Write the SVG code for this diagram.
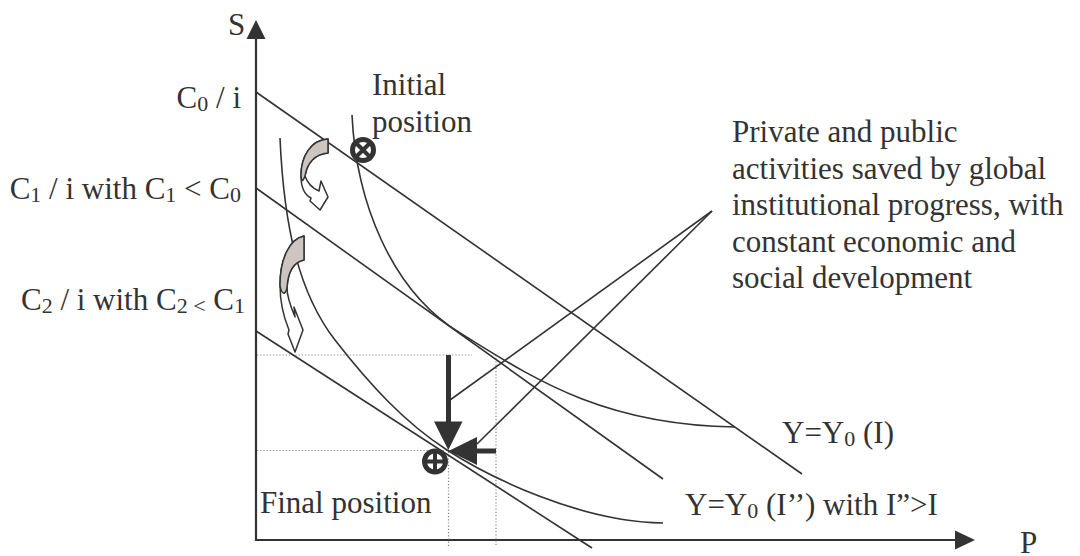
<svg xmlns="http://www.w3.org/2000/svg" width="1080" height="556" viewBox="0 0 1080 556">
<style>
text{font-family:"Liberation Serif","Times New Roman",serif;font-size:31px;fill:#333}
.sub{font-size:22px}
.ln{stroke:#333;stroke-width:1.6;fill:none}
.ax{stroke:#333;stroke-width:2.2;fill:none}
.dot{stroke:#888;stroke-width:1.2;stroke-dasharray:1.2 2;fill:none}
.hd{fill:#333;stroke:none}
.mk{fill:#fff;stroke:#333;stroke-width:5}
.mkx{stroke:#333;stroke-width:4;fill:none}
.ga{fill:#ccc5c2;stroke:#333;stroke-width:1.5;stroke-linejoin:round}
.wa{fill:#fff;stroke:#333;stroke-width:1.5;stroke-linejoin:round}
</style>
<rect width="1080" height="556" fill="#fff"/>

<g id="axes">
<line class="ax" x1="256" y1="38" x2="256" y2="541"/>
<polygon class="hd" points="256,20 246.5,39 265.5,39"/>
<line class="ax" x1="255" y1="540" x2="957" y2="540"/>
<polygon class="hd" points="975,540 955,530.5 955,549.5"/>
</g>

<g id="guides">
<line class="dot" x1="257" y1="355" x2="472" y2="355"/>
<line class="dot" x1="257" y1="450.5" x2="447" y2="450.5"/>
<line class="dot" x1="448.5" y1="452" x2="448.5" y2="547"/>
<line class="dot" x1="496" y1="355" x2="496" y2="546"/>
</g>

<g id="budget-lines">
<line class="ln" x1="256" y1="92" x2="802" y2="474"/>
<line class="ln" x1="256" y1="188" x2="663" y2="479"/>
<line class="ln" x1="256" y1="331" x2="592" y2="548"/>
</g>

<g id="curves">
<path id="curve-I" class="ln" d="M352,115 C356,200 390,290 460,333 S600,425 735,427"/>
<path id="curve-I2" class="ln" d="M280,138 C284,230 300,295 335,340 S405,423 447,450 S580,522 663,523"/>
</g>

<g id="curved-arrows">
<path class="wa" d="M328,139 C311,140 301,156 301,176 C301,188 305,195 311,198 L310,201 L320,210 L328,197 L321,181 L319,191 C312,188 307,182 305,176 C307,163 315,154 328,153 Z"/>
<path class="ga" d="M328,139 C311,140 301,156 301,176 C302,183 303,181 305,176 C307,163 315,154 328,153 Z"/>
<path class="wa" d="M304,236 C289,239 280,260 280,285 C280,305 284,318 289,330 L288,334 L295,352 L303,330 L294,307 L295,317 C290,305 287,297 287,288 C288,270 294,262 304,260 Z"/>
<path class="ga" d="M304,236 C289,239 280,260 280,285 C281,293 285,297 287,288 C288,270 294,262 304,260 Z"/>
</g>

<g id="connectors">
<line class="ln" x1="450" y1="400" x2="712" y2="211"/>
<line class="ln" x1="477" y1="444" x2="712" y2="211"/>
<rect class="hd" x="446" y="355" width="5" height="68"/>
<polygon class="hd" points="434,421.5 462.5,421.5 448.3,450"/>
<rect class="hd" x="475" y="448.5" width="21" height="5"/>
<polygon class="hd" points="448.5,451 477,437 477,465"/>
</g>

<g id="initial-position">
<circle class="mk" cx="363" cy="150" r="10.5"/>
<path class="mkx" d="M357,144 L369,156 M369,144 L357,156"/>
</g>
<g id="final-position">
<circle class="mk" cx="435" cy="461.5" r="10.5"/>
<path class="mkx" d="M435,452 L435,471 M425.5,461.5 L444.5,461.5"/>
</g>

<g id="labels">
<text x="228" y="35">S</text>
<text x="241" y="108" text-anchor="end">C<tspan class="sub" dy="3">0</tspan><tspan dy="-3"> / i</tspan></text>
<text x="241" y="199" text-anchor="end">C<tspan class="sub" dy="3">1</tspan><tspan dy="-3"> / i with C</tspan><tspan class="sub" dy="3">1</tspan><tspan dy="-3"> &lt; C</tspan><tspan class="sub" dy="3">0</tspan></text>
<text x="245" y="310" text-anchor="end">C<tspan class="sub" dy="3">2</tspan><tspan dy="-3"> / i with C</tspan><tspan class="sub" dy="3">2 &lt;</tspan><tspan dy="-3"> C</tspan><tspan class="sub" dy="3">1</tspan></text>
<text x="372" y="95">Initial</text>
<text x="372" y="131.5">position</text>
<text x="732" y="142">Private and public</text>
<text x="732" y="178.5">activities saved by global</text>
<text x="732" y="215">institutional progress, with</text>
<text x="732" y="251.5">constant economic and</text>
<text x="732" y="288">social development</text>
<text x="782" y="443">Y=Y<tspan class="sub" dy="3">0</tspan><tspan dy="-3"> (I)</tspan></text>
<text x="685" y="515">Y=Y<tspan class="sub" dy="3">0</tspan><tspan dy="-3"> (I’’) with I”&gt;I</tspan></text>
<text x="260" y="513">Final position</text>
<text x="1020" y="553">P</text>
</g>
</svg>
